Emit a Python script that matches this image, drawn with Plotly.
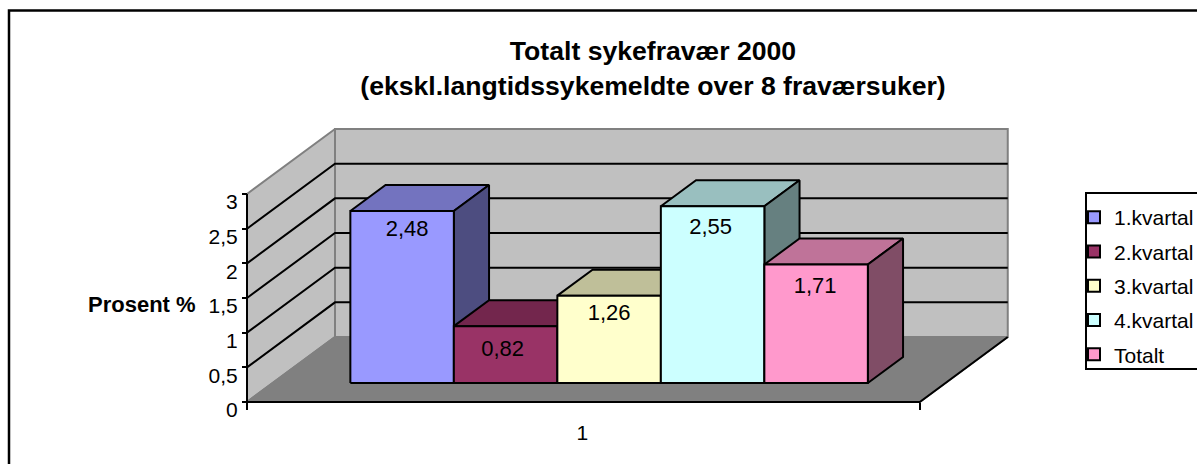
import plotly.graph_objects as go

W, H = 1197, 464
categories = ["1.kvartal", "2.kvartal", "3.kvartal", "4.kvartal", "Totalt"]
values = [2.48, 0.82, 1.26, 2.55, 1.71]
labels = ["2,48", "0,82", "1,26", "2,55", "1,71"]
front_colors = ["#9999FF", "#993366", "#FFFFCC", "#CCFFFF", "#FF99CC"]
top_colors = ["#7373BF", "#73264D", "#BFBF99", "#99BFBF", "#BF7399"]
side_colors = ["#4D4D80", "#4D1A33", "#808066", "#668080", "#804D66"]
y_ticks = [0, 0.5, 1, 1.5, 2, 2.5, 3]
y_tick_labels = ["0", "0,5", "1", "1,5", "2", "2,5", "3"]

# Axis geometry: one x unit is one bar width, one y unit is one value unit.
PX_X, PX_Y = 103.5, 69.33
ORIGIN_X, ORIGIN_Y = 247, 402
FLOOR_W = 6.5
GAP = 0.75
YMAX = 3
DEPTH_X, DEPTH_Y = 88 / PX_X, 65 / PX_Y      # full depth of the floor
BAR_D0, BAR_D1 = 19 / 65, 45 / 65             # bar front/back depth fractions
LABEL_DROP = [19, 24, 19, 22, 23]              # px below bar top
LABEL_SHIFT = [5, -3, 0, -2, -1]               # px right of bar centre


def proj(x, y, d=0.0):
    return x + d * DEPTH_X, y + d * DEPTH_Y


def poly(points, fill=None, line="black", lw=2):
    xs, ys = zip(*[proj(*p) for p in points])
    if fill:
        return go.Scatter(x=list(xs) + [xs[0]], y=list(ys) + [ys[0]], mode="lines", fill="toself",
                          fillcolor=fill, line=dict(color=line, width=lw), hoverinfo="skip", showlegend=False)
    return go.Scatter(x=list(xs), y=list(ys), mode="lines", line=dict(color=line, width=lw),
                      hoverinfo="skip", showlegend=False)


fig = go.Figure()
# walls and floor
fig.add_trace(poly([(0, 0, 1), (FLOOR_W, 0, 1), (FLOOR_W, YMAX, 1), (0, YMAX, 1)], "#C0C0C0", "#808080"))
fig.add_trace(poly([(0, 0, 0), (0, 0, 1), (0, YMAX, 1), (0, YMAX, 0)], "#C0C0C0", "#808080"))
fig.add_trace(poly([(0, 0, 0), (FLOOR_W, 0, 0), (FLOOR_W, 0, 1), (0, 0, 1)], "#808080", "#808080"))
# gridlines
for t in y_ticks[1:-1]:
    fig.add_trace(poly([(0, t, 0), (0, t, 1), (FLOOR_W, t, 1)]))
fig.add_trace(poly([(0, 0, 0), (FLOOR_W, 0, 0), (FLOOR_W, 0, 1)]))
fig.add_trace(poly([(0, 0, 0), (0, YMAX, 0)]))
# bars
for i, v in enumerate(values):
    x0, x1 = GAP + i, GAP + i + 1
    fig.add_trace(poly([(x0, v, BAR_D0), (x1, v, BAR_D0), (x1, v, BAR_D1), (x0, v, BAR_D1)], top_colors[i]))
    fig.add_trace(poly([(x1, 0, BAR_D0), (x1, v, BAR_D0), (x1, v, BAR_D1), (x1, 0, BAR_D1)], side_colors[i]))
    fig.add_trace(poly([(x0, 0, BAR_D0), (x1, 0, BAR_D0), (x1, v, BAR_D0), (x0, v, BAR_D0)], front_colors[i]))

# value labels
lx, ly = [], []
for i, v in enumerate(values):
    px, py = proj(GAP + i + 0.5, v, BAR_D0)
    lx.append(px + LABEL_SHIFT[i] / PX_X)
    ly.append(py - LABEL_DROP[i] / PX_Y)
fig.add_trace(go.Scatter(x=lx, y=ly, mode="text", text=labels, textposition="middle center",
                         textfont=dict(size=22, color="black"), hoverinfo="skip", showlegend=False))

# legend entries
for c, col in zip(categories, front_colors):
    fig.add_trace(go.Scatter(x=[None], y=[None], mode="markers", name=c, legendgroup=c,
                             marker=dict(symbol="square", size=12, color=col, line=dict(color="black", width=2))))

fig.update_layout(
    width=W, height=H, margin=dict(l=0, r=0, t=0, b=0, autoexpand=False),
    paper_bgcolor="white", plot_bgcolor="white",
    font=dict(family="Liberation Sans, Arial, sans-serif", size=21, color="black"),
    title=dict(text="<b>Totalt sykefravær 2000<br>(ekskl.langtidssykemeldte over 8 fraværsuker)</b>",
               x=653 / W, xanchor="center", y=1 - 60 / H, yanchor="top",
               font=dict(size=26.6)),
    xaxis=dict(range=[-ORIGIN_X / PX_X, (W - ORIGIN_X) / PX_X], domain=[0, 1], anchor="free",
               position=(H - ORIGIN_Y) / H, showgrid=False, zeroline=False, showline=False,
               tickmode="array", tickvals=[FLOOR_W / 2], ticktext=["1"], ticks="outside",
               ticklen=12, tickcolor="rgba(0,0,0,0)", ticklabelshift=-1,
               minor=dict(tickmode="array", tickvals=[0, FLOOR_W], ticks="outside", ticklen=7,
                          tickcolor="black", tickwidth=2, showgrid=False)),
    yaxis=dict(range=[-(H - ORIGIN_Y) / PX_Y, ORIGIN_Y / PX_Y], domain=[0, 1], anchor="free",
               position=ORIGIN_X / W, showgrid=False, zeroline=False, showline=False,
               tickmode="array", tickvals=y_ticks, ticktext=y_tick_labels, ticks="outside",
               ticklen=5, tickwidth=2, tickcolor="black", ticklabelshift=8),
    legend=dict(x=1074 / W, xanchor="left", y=1 - 197 / H, yanchor="top", bgcolor="rgba(0,0,0,0)",
                traceorder="grouped", tracegroupgap=4, font=dict(size=21), itemclick=False,
                itemdoubleclick=False, entrywidth=70, entrywidthmode="pixels"),
    annotations=[dict(text="<b>Prosent %</b>", xref="paper", yref="paper", x=198 / W, y=1 - 304 / H,
                      xanchor="right", yanchor="middle", showarrow=False, font=dict(size=22))],
    shapes=[
        dict(type="rect", xref="paper", yref="paper", x0=9 / W, x1=1197 / W + 0.01, y0=-0.01, y1=1 - 10.5 / H,
             line=dict(color="black", width=2.5), layer="below"),
        dict(type="rect", xref="paper", yref="paper", x0=1086 / W, x1=1197 / W + 0.01, y0=1 - 369 / H, y1=1 - 193 / H,
             line=dict(color="black", width=2), fillcolor="white", layer="below"),
    ],
)
fig.write_html("out.html", config=dict(displayModeBar=False), post_script="document.body.style.margin='0';")
